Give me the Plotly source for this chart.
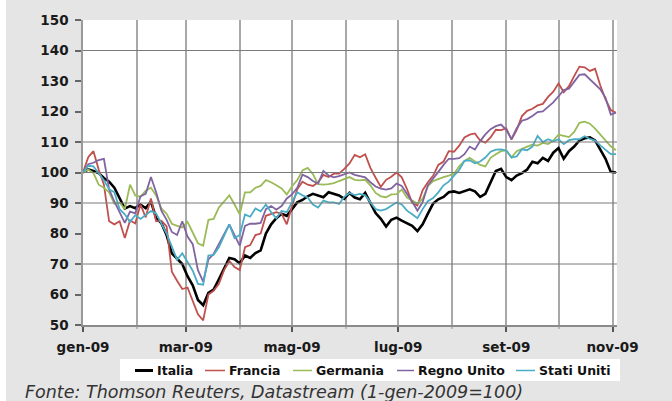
import pandas as pd
import plotly.graph_objects as go

# ---- data: index values (1 Jan 2009 = 100), sampled every 3 days ----
dates = pd.date_range("2009-01-01", periods=103, freq="3D")

italia = [
    100, 101, 100.5, 99.8, 98.2, 97, 95, 91.5, 88.2, 89,
    88.3, 89.5, 88.3, 90.5, 85, 83.4, 79.5, 73.5, 71.8, 70,
    66, 63, 58.2, 56.5, 60.5, 61.6, 65, 68.5, 72, 71.6,
    70.2, 72.8, 72, 73.6, 74.5, 80, 83, 85, 86.5, 85.8,
    88, 90.2, 91, 92.2, 93, 92.5, 91.9, 93.5, 93, 92.5,
    91.4, 93.3, 91.8, 91.2, 93.3, 90, 86.7, 84.8, 82.3, 84.5,
    85.2, 84.2, 83.4, 82.5, 80.8, 83, 86.5, 89.8, 91.2, 92,
    93.5, 93.8, 93.3, 94, 94.5, 93.8, 92, 93, 97, 100.5,
    101.2, 98.5, 97.5, 99, 99.8, 101, 103.5, 103, 104.8, 103.8,
    106.5, 108, 104.5, 107, 108.5, 110.5, 111.2, 111.5, 110.5, 107.5,
    104.5, 100.2, 100,
]

francia = [
    100, 105, 107, 101, 96, 84, 83, 84, 78.5, 84.3,
    83.3, 89.5, 85.3, 91.5, 84, 84.2, 82.3, 67.5, 64.5, 61.8,
    62.3, 57.8, 53.5, 51.5, 60, 61.2, 63.5, 68, 71, 69,
    68, 75.5, 76.2, 79.5, 80, 85.8, 86.3, 87, 86.5, 83,
    89, 94.5, 97, 96, 95.6, 96.8, 99.2, 98.5, 99.6, 99.6,
    101.2, 103, 105.8, 105, 106, 101.5, 98.3, 95.3, 97.6, 98.6,
    100, 98.4, 94.6, 90, 89.2, 94.2, 96.8, 98.9, 102.5, 103.6,
    107, 106.8, 108.8, 111.5, 112.4, 112.8, 110.5, 109.8, 111.5, 114,
    113.9, 114.5, 110.8, 114, 118.5, 120.2, 120.9, 122, 122.5, 124.8,
    126.5, 129.2, 126.3, 128.3, 131.6, 134.7, 134.5, 133.3, 134, 128.5,
    124, 120.5, 119.6,
]

germania = [
    100, 101, 99.8, 96, 95, 93.5, 89.8, 90.2, 88, 96,
    92.5, 92, 94, 95, 92.5, 88.2, 86.5, 83.2, 82.5, 82,
    83.8, 80.5, 76.8, 76, 84.5, 84.8, 88.5, 90.5, 92.5, 89.5,
    86.3, 93.5, 93.5, 95, 95.6, 97.5, 96.8, 95.8, 94.8, 92.8,
    95.5, 97.5, 100.7, 101.5, 99.5, 96.2, 96, 96.2, 96.5, 97.2,
    97.8, 98.5, 97.6, 97.4, 97.6, 95.8, 93.3, 92.2, 91.9, 92.8,
    92.9, 94.4, 91.8, 90.8, 89.8, 91.4, 95.5, 97.2, 97.9, 98.5,
    99, 99.6, 102, 103.8, 104.8, 103.6, 102.5, 102, 104.8, 106,
    107, 107.3, 105, 107, 107.8, 108.5, 109.1, 108.8, 109.7, 109.3,
    110.5, 112.4, 112, 111.6, 113.3, 116.3, 116.7, 116, 114.4, 112.5,
    110.6, 108.6, 107.3,
]

regno_unito = [
    100, 102.7, 103.2, 104.1, 104.5, 94.5, 90.5, 86.8, 83.5, 87.2,
    86.6, 92.2, 93, 98.5, 93.5, 87.5, 84.5, 80.5, 79.5, 84,
    79, 76.5, 68, 64.2, 71.5, 73.3, 76.5, 80.2, 83, 79.5,
    76, 82.5, 83.2, 83.2, 83.5, 88, 89, 87.8, 89, 91.5,
    92.8, 95, 99.3, 98.5, 97.2, 96.4, 100.5, 99, 98.4, 98.8,
    99.4, 100, 99.2, 98.8, 98.4, 96.8, 95.4, 94.7, 94.4, 94.8,
    96.4, 95.6, 93.2, 90.5, 87.5, 90.3, 95.8, 98.2, 100.2, 102.5,
    104.5, 104.5, 104.7, 106, 108.5, 107.5, 110.3, 112.5, 114.2, 115.2,
    115.7, 114, 111, 114.5, 117, 117.5, 118.5, 119.8, 120, 121.5,
    123, 125, 127, 127.5, 129.8, 132, 132.2, 130.6, 129, 127.3,
    124.5, 119, 119.6,
]

stati_uniti = [
    100, 102.2, 102, 99.8, 97.5, 94.5, 93.5, 88, 86.3, 83.8,
    86, 84.8, 86, 87.4, 86.6, 83.2, 80, 75.7, 71.4, 73.5,
    70.5, 67.8, 63.5, 63.2, 72.8, 73, 75.5, 79.4, 83, 78.5,
    79.5, 86.2, 85.5, 88.2, 87.3, 89.5, 87, 85, 87.4, 87,
    90, 93.5, 92.5, 91.8, 89.5, 88.5, 90.8, 90.2, 90.2, 89.7,
    92, 93.3, 92.6, 93, 92.5, 90.2, 88, 87.5, 88, 89.1,
    90.2, 89.5, 87.5, 86.3, 85, 88, 90.6, 91.6, 93.5, 95.8,
    97, 99, 100.8, 103.8, 104, 103, 103.6, 104.9, 106.8, 107.5,
    107.6, 107.2, 104.9, 105.3, 107.6, 107.3, 108.5, 112, 110, 110.9,
    110.2, 110.9, 109.3, 110.6, 110.9, 110.9, 111.9, 111, 110.5, 108.9,
    107.6, 106, 106,
]

series_names = ["Italia", "Francia", "Germania", "Regno Unito", "Stati Uniti"]
series_values = [italia, francia, germania, regno_unito, stati_uniti]

tick_dates = ["2009-01-01", "2009-03-01", "2009-05-01",
              "2009-07-01", "2009-09-01", "2009-11-01"]
tick_labels = ["gen-09", "mar-09", "mag-09", "lug-09", "set-09", "nov-09"]
ref_levels = [70, 90, 100, 110, 140]

source_note = "Fonte: Thomson Reuters, Datastream (1-gen-2009=100)"

# ---- styling ----
colors = ["#000000", "#c0504d", "#9bbb59", "#8064a2", "#4bacc6"]
widths = [2.6, 1.8, 1.8, 1.8, 1.8]
x_range = ["2009-01-01", "2009-11-03 14:00"]

W, H = 672, 401
ML, MR, MT, MB = 83, 55, 20, 76
PW, PH = W - ML - MR, H - MT - MB


def px_x(p):
    """pixel column -> paper x"""
    return (p - ML) / PW


def px_y(p):
    """pixel row -> paper y"""
    return (H - MB - p) / PH


bold = dict(family="DejaVu Sans", size=13.5, color="#1a1a1a", weight="bold")

fig = go.Figure()

for name, vals, col, w in zip(series_names, series_values, colors, widths):
    fig.add_trace(go.Scatter(
        x=dates, y=vals, mode="lines", name=name,
        line=dict(color=col, width=w), showlegend=False,
    ))

shapes = []
# horizontal reference lines at selected levels
for lvl in ref_levels:
    shapes.append(dict(type="line", xref="paper", x0=0, x1=1, yref="y",
                       y0=lvl, y1=lvl, layer="above",
                       line=dict(color="#7a7a7a", width=1)))
# white strip on the left edge of the page
shapes.append(dict(type="rect", xref="paper", yref="paper",
                   x0=px_x(0), x1=px_x(6), y0=px_y(H), y1=px_y(0),
                   fillcolor="white", line=dict(width=0), layer="below"))
# legend box
shapes.append(dict(type="rect", xref="paper", yref="paper",
                   x0=px_x(120), x1=px_x(620), y0=px_y(381), y1=px_y(359),
                   fillcolor="white", line=dict(width=0)))

annotations = []
legend_line_x = [(135, 153), (205, 225), (293, 312), (397, 414), (516, 535)]
legend_text_x = [155, 227, 314, 416, 537]
legend_y = 370.5
for name, col, (a, b), tx, w in zip(series_names, colors, legend_line_x,
                                    legend_text_x, widths):
    shapes.append(dict(type="line", xref="paper", yref="paper",
                       x0=px_x(a), x1=px_x(b), y0=px_y(legend_y), y1=px_y(legend_y),
                       line=dict(color=col, width=3 if w > 2 else 1.5)))
    annotations.append(dict(text=name, xref="paper", yref="paper",
                            x=px_x(tx), y=px_y(legend_y), xanchor="left",
                            yanchor="middle", showarrow=False,
                            font=dict(family="DejaVu Sans", size=12.5,
                                      color="#111", weight="bold")))

annotations.append(dict(text="<i>" + source_note + "</i>", xref="paper", yref="paper",
                        x=px_x(23), y=px_y(392), xanchor="left", yanchor="middle",
                        showarrow=False,
                        font=dict(family="DejaVu Sans", size=17.5, color="#333333")))

fig.update_layout(
    width=W, height=H,
    margin=dict(l=ML, r=MR, t=MT, b=MB, pad=0),
    paper_bgcolor="#e5e5e5",
    plot_bgcolor="white",
    showlegend=False,
    shapes=shapes,
    annotations=annotations,
    xaxis=dict(
        type="date",
        range=x_range,
        tickmode="array", tickvals=tick_dates, ticktext=tick_labels,
        ticks="outside", ticklen=5, tickwidth=1.5, tickcolor="#555",
        tickfont=bold, ticklabelstandoff=4,
        showgrid=True, gridcolor="#a8a8a8", gridwidth=1.5,
        minor=dict(tick0="2009-01-01", dtick="M1", showgrid=True,
                   gridcolor="#a8a8a8", gridwidth=1.5,
                   ticks="outside", ticklen=2, tickcolor="#bbbbbb"),
        showline=True, linecolor="#8a8a8a", linewidth=2,
        zeroline=False,
    ),
    yaxis=dict(
        range=[50, 150], tick0=50, dtick=10,
        ticks="outside", ticklen=6, tickwidth=1.5, tickcolor="#666",
        tickfont=bold, ticklabelstandoff=4,
        showgrid=False, zeroline=False,
        showline=True, linecolor="#9a9a9a", linewidth=1.5,
    ),
)

fig.write_html("out.html")
